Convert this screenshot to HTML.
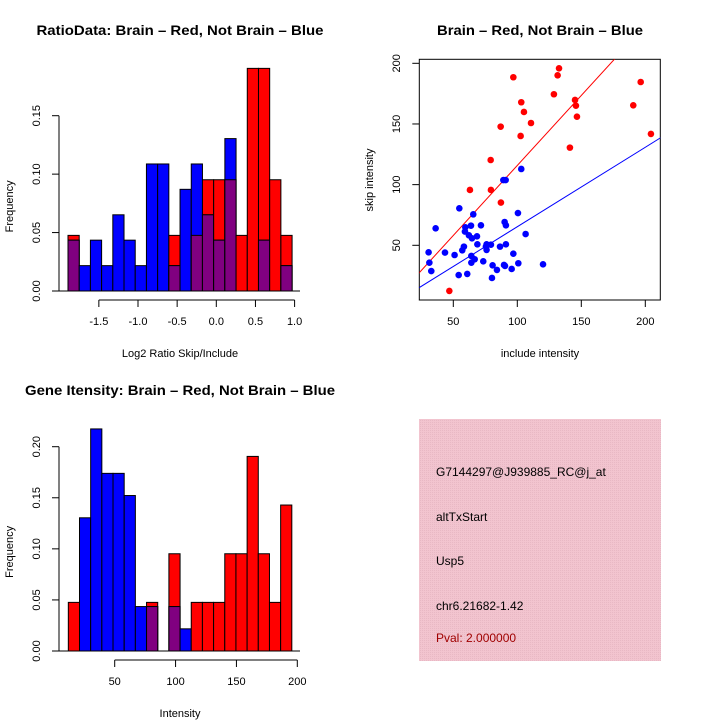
<!DOCTYPE html>
<html><head><meta charset="utf-8"><style>
html,body{margin:0;padding:0;background:#fff}
svg{display:block;font-family:"Liberation Sans",sans-serif}
</style></head><body>
<svg id="chart" width="720" height="720" viewBox="0 0 720 720">
<defs>
<pattern id="pinkpat" width="2" height="2" patternUnits="userSpaceOnUse">
<rect width="2" height="2" fill="#f2c4cf"/><rect width="1" height="1" fill="#e8b8c4"/>
</pattern>
</defs>
<g id="p1"></g>
<g id="p2"></g>
<g id="p3"></g>
<g id="p4">
<rect x="419" y="419" width="242" height="242" fill="url(#pinkpat)"/>
<text x="436" y="476" font-size="12">G7144297@J939885_RC@j_at</text>
<text x="436" y="521" font-size="12">altTxStart</text>
<text x="436" y="565" font-size="12">Usp5</text>
<text x="436" y="610" font-size="12">chr6.21682-1.42</text>
<text x="436" y="642" font-size="12" fill="#a00000">Pval: 2.000000</text>
</g>
</svg>
<script>
// ---- data: ratio histogram ----
const ratioStart = -1.894, ratioBinWidth = 0.1431;
const ratioRed  = [0.0476,0,0,0,0,0,0,0,0,0.0476,0,0.0476,0.0952,0.0952,0.0952,0.0476,0.1905,0.1905,0.0952,0.0476];
const ratioBlue = [0.0435,0.0217,0.0435,0.0217,0.0652,0.0435,0.0217,0.1087,0.1087,0.0217,0.0870,0.1087,0.0652,0.0435,0.1304,0,0,0.0435,0,0.0217];
const ratioXTicks = [-1.5,-1.0,-0.5,0.0,0.5,1.0];
const ratioXTickLabels = ["-1.5","-1.0","-0.5","0.0","0.5","1.0"];
const ratioYTicks = [0,0.05,0.10,0.15];
const ratioYTickLabels = ["0.00","0.05","0.10","0.15"];
// ---- data: intensity histogram ----
const intStart = 11.9, intBinWidth = 9.18;
const intRed  = [0.0476,0,0,0,0,0,0,0.0476,0,0.0952,0,0.0476,0.0476,0.0476,0.0952,0.0952,0.1905,0.0952,0.0476,0.1429];
const intBlue = [0,0.1304,0.2174,0.1739,0.1739,0.1522,0.0435,0.0435,0,0.0435,0.0217,0,0,0,0,0,0,0,0,0];
const intXTicks = [50,100,150,200];
const intXTickLabels = ["50","100","150","200"];
const intYTicks = [0,0.05,0.10,0.15,0.20];
const intYTickLabels = ["0.00","0.05","0.10","0.15","0.20"];
// ---- data: scatter ----
const redX = [46.9,63.0,79.2,79.4,87.0,87.2,96.9,102.6,103.1,105.2,110.7,128.6,131.5,132.6,141.1,145.1,145.8,146.6,190.6,196.4,204.4];
const redY = [12.4,95.6,120.3,95.6,147.8,85.2,188.5,140.1,167.9,159.9,150.8,174.5,190.1,195.9,130.5,169.8,165.1,156.0,165.4,184.6,141.8];
const blueX = [30.7,31.3,32.8,36.2,43.5,51.0,54.2,54.7,57.0,58.3,59.4,60.9,62.2,63.8,64.1,64.1,64.6,65.6,66.7,68.5,68.8,71.6,73.4,76.0,76.0,79.4,80.2,80.7,84.1,86.5,89.1,90.9,90.1,91.1,90.4,91.1,95.6,96.9,100.5,100.8,103.1,106.5,120.1,75.5,59.1,89.6];
const blueY = [44.2,35.7,28.8,64.0,44.0,42.0,25.5,80.5,45.9,48.9,64.8,26.4,58.2,66.2,41.2,35.7,55.8,75.5,38.5,57.4,50.8,66.5,36.8,46.2,50.8,50.5,23.1,33.5,29.7,48.9,103.8,103.8,69.2,66.5,33.0,50.8,30.5,43.1,76.6,35.2,112.9,59.3,34.3,48.9,61.3,33.8];
const redFit = [0.4, 1.154];   // intercept, slope
const blueFit = [-0.2, 0.655];
const scXTicks = [50,100,150,200];
const scYTicks = [50,100,150,200];

const NS="http://www.w3.org/2000/svg";
function mk(parent,tag,attrs,text){const e=document.createElementNS(NS,tag);for(const k in attrs)e.setAttribute(k,attrs[k]);if(text!==undefined)e.textContent=text;parent.appendChild(e);return e;}

function histogram(g, start, bw, red, blue, xs, ys, xTicks, xLabels, yTicks, yLabels, title, titleLen, xlabel, titleY, axisY, baseY, yTopVal){
  const n = red.length;
  for(let i=0;i<n;i++){
    const x0=xs(start+i*bw), x1=xs(start+(i+1)*bw);
    if(red[i]>0){const r=mk(g,'rect',{x:x0,y:ys(red[i]),width:x1-x0,height:ys(0)-ys(red[i]),fill:'#ff0000',stroke:'#000','stroke-width':1});
      
      }
    if(blue[i]>0){const b=mk(g,'rect',{x:x0,y:ys(blue[i]),width:x1-x0,height:ys(0)-ys(blue[i]),fill:'#0000ff',stroke:'#000','stroke-width':1});
      
      }
    if(red[i]>0&&blue[i]>0){const m=Math.min(red[i],blue[i]);
      const p=mk(g,'rect',{x:x0,y:ys(m),width:x1-x0,height:ys(0)-ys(m),fill:'#800080',stroke:'#000','stroke-width':1});
      
      }
  }
  const bl=mk(g,'line',{x1:52,x2:300,y1:ys(0),y2:ys(0),stroke:'#000','stroke-width':1});
  
  
  const ya=mk(g,'line',{x1:59,x2:59,y1:ys(0),y2:ys(yTopVal),stroke:'#000'});
  
  
  yTicks.forEach((v,i)=>{
    mk(g,'line',{x1:52,x2:59,y1:ys(v),y2:ys(v),stroke:'#000'});
    const t=mk(g,'text',{x:0,y:0,'font-size':11,'text-anchor':'middle',transform:`translate(40,${ys(v)}) rotate(-90)`},yLabels[i]);
    
    
  });
  const xa=mk(g,'line',{x1:xs(xTicks[0]),x2:xs(xTicks[xTicks.length-1]),y1:axisY,y2:axisY,stroke:'#000'});
  
  
  xTicks.forEach((v,i)=>{
    mk(g,'line',{x1:xs(v),x2:xs(v),y1:axisY,y2:axisY+7,stroke:'#000'});
    const t=mk(g,'text',{x:xs(v),y:axisY+25,'font-size':11,'text-anchor':'middle'},xLabels[i]);
    
    
  });
  const tt=mk(g,'text',{x:180,y:titleY,'font-size':14,'font-weight':'bold','text-anchor':'middle',textLength:titleLen,lengthAdjust:'spacingAndGlyphs'},title);
  
  
  const xl=mk(g,'text',{x:180,y:axisY+57,'font-size':11,'text-anchor':'middle'},xlabel);
  
  
  const yl=mk(g,'text',{x:0,y:0,'font-size':11,'text-anchor':'middle',transform:`translate(13,${(ys(0)+ys(yTopVal))/2+3}) rotate(-90)`},'Frequency');
  
  
}

{
  const g=document.getElementById('p1');
  const xs=v=>216.3+v*78.3;
  const ys=v=>291-v*(175.3/0.15);
  histogram(g,ratioStart,ratioBinWidth,ratioRed,ratioBlue,xs,ys,ratioXTicks,ratioXTickLabels,ratioYTicks,ratioYTickLabels,
    'RatioData: Brain \u2013 Red, Not Brain \u2013 Blue',287,'Log2 Ratio Skip/Include',35,300,291,0.15);
}
{
  const g=document.getElementById('p3');
  const xs=v=>114.7+(v-50)*1.2173;
  const ys=v=>651-v*(204.3/0.20);
  histogram(g,intStart,intBinWidth,intRed,intBlue,xs,ys,intXTicks,intXTickLabels,intYTicks,intYTickLabels,
    'Gene Itensity: Brain \u2013 Red, Not Brain \u2013 Blue',310,'Intensity',395,660,651,0.20);
}
{
  const g=document.getElementById('p2');
  const xs=v=>453.3+(v-50)*1.28;
  const ys=v=>245.3-(v-50)*1.2133;
  const L=419.3,R=660.3,T=59.3,B=300;
  const cp=mk(document.querySelector('defs'),'clipPath',{id:'scclip'});
  mk(cp,'rect',{x:L,y:T,width:R-L,height:B-T});
  const box=mk(g,'rect',{x:L,y:T,width:R-L,height:B-T,fill:'none',stroke:'#000'});
  
  
  const lines=mk(g,'g',{'clip-path':'url(#scclip)'});
  [[redFit,'#ff0000','fit-line-red'],[blueFit,'#0000ff','fit-line-blue']].forEach(([f,c,nm])=>{
    const x0=0,x1=260;
    const l=mk(lines,'line',{x1:xs(x0),y1:ys(f[0]+f[1]*x0),x2:xs(x1),y2:ys(f[0]+f[1]*x1),stroke:c,'stroke-width':1});
    
    
  });
  redX.forEach((x,i)=>{const c=mk(g,'circle',{cx:xs(x),cy:ys(redY[i]),r:3.3,fill:'#ff0000'});
    
    });
  blueX.forEach((x,i)=>{const c=mk(g,'circle',{cx:xs(x),cy:ys(blueY[i]),r:3.3,fill:'#0000ff'});
    
    });
  scXTicks.forEach(v=>{
    mk(g,'line',{x1:xs(v),x2:xs(v),y1:B,y2:B+7,stroke:'#000'});
    const t=mk(g,'text',{x:xs(v),y:B+25,'font-size':11,'text-anchor':'middle'},String(v));
    
    
  });
  scYTicks.forEach(v=>{
    mk(g,'line',{x1:L-7,x2:L,y1:ys(v),y2:ys(v),stroke:'#000'});
    const t=mk(g,'text',{x:0,y:0,'font-size':11,'text-anchor':'middle',transform:`translate(400,${ys(v)}) rotate(-90)`},String(v));
    
    
  });
  const tt=mk(g,'text',{x:540,y:35,'font-size':14,'font-weight':'bold','text-anchor':'middle',textLength:206,lengthAdjust:'spacingAndGlyphs'},'Brain \u2013 Red, Not Brain \u2013 Blue');
  
  
  const xl=mk(g,'text',{x:540,y:357,'font-size':11,'text-anchor':'middle'},'include intensity');
  
  
  const yl=mk(g,'text',{x:0,y:0,'font-size':11,'text-anchor':'middle',transform:`translate(373,180) rotate(-90)`},'skip intensity');
  
  
}
</script>
</body></html>
